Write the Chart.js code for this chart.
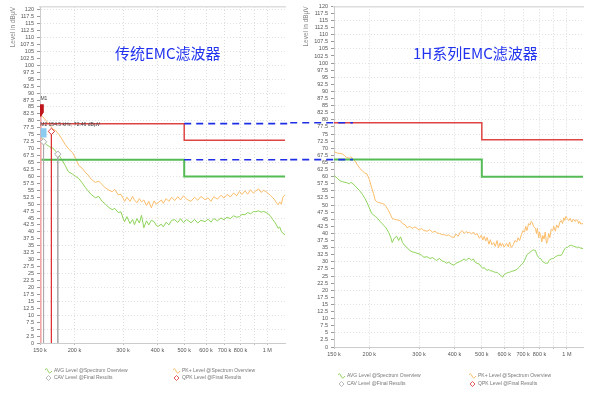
<!DOCTYPE html>
<html>
<head>
<meta charset="utf-8">
<script src="https://cdn.jsdelivr.net/npm/chart.js@4.4.0/dist/chart.umd.min.js"></script>
<style>
body { margin: 0; background: #fff; width: 599px; height: 395px; overflow: hidden; position: relative; font-family: "Liberation Sans", Arial, sans-serif; }
canvas { position: absolute; top: 0; }
#left { left: 0; }
#right { left: 290px; }
.title { position: absolute; font: 15px "Noto Sans CJK SC", sans-serif; color: #2233ee; white-space: nowrap; }
.lg { position: absolute; font-size: 5px; color: #777; white-space: nowrap; line-height: 6px; }
.lg svg { vertical-align: middle; margin-right: 2px; }
</style>
</head>
<body>
<canvas id="left" width="290" height="395"></canvas>
<canvas id="right" width="294" height="395"></canvas>

<div class="title" style="left:115px;top:42px">传统EMC滤波器</div>
<div class="title" style="left:413px;top:42px">1H系列EMC滤波器</div>

<div class="lg" style="left:45px;top:367px"><svg width="7" height="6"><path d="M0,2 Q1.5,-1 3,3 T7,3" fill="none" stroke="#8ed35a" stroke-width="1"/></svg>AVG Level @Spectrum Overview</div>
<div class="lg" style="left:45px;top:374px"><svg width="7" height="6"><path d="M3.5,0.5 L6,3 L3.5,5.5 L1,3 Z" fill="#fff" stroke="#aaa" stroke-width="0.8"/></svg>CAV Level @Final Results</div>
<div class="lg" style="left:173px;top:367px"><svg width="7" height="6"><path d="M0,2 Q1.5,-1 3,3 T7,3" fill="none" stroke="#fbbd6b" stroke-width="1"/></svg>PK+ Level @Spectrum Overview</div>
<div class="lg" style="left:173px;top:374px"><svg width="7" height="6"><path d="M3.5,0.5 L6,3 L3.5,5.5 L1,3 Z" fill="#fff" stroke="#d33" stroke-width="0.8"/></svg>QPK Level @Final Results</div>

<div class="lg" style="left:338px;top:372px"><svg width="7" height="6"><path d="M0,2 Q1.5,-1 3,3 T7,3" fill="none" stroke="#8ed35a" stroke-width="1"/></svg>AVG Level @Spectrum Overview</div>
<div class="lg" style="left:338px;top:380px"><svg width="7" height="6"><path d="M3.5,0.5 L6,3 L3.5,5.5 L1,3 Z" fill="#fff" stroke="#aaa" stroke-width="0.8"/></svg>CAV Level @Final Results</div>
<div class="lg" style="left:469px;top:372px"><svg width="7" height="6"><path d="M0,2 Q1.5,-1 3,3 T7,3" fill="none" stroke="#fbbd6b" stroke-width="1"/></svg>PK+ Level @Spectrum Overview</div>
<div class="lg" style="left:469px;top:380px"><svg width="7" height="6"><path d="M3.5,0.5 L6,3 L3.5,5.5 L1,3 Z" fill="#fff" stroke="#d33" stroke-width="0.8"/></svg>QPK Level @Final Results</div>

<script>
// frequencies in kHz, levels in dBµV
const xTicks = [150, 200, 300, 400, 500, 600, 700, 800, 900, 1000];
const xTickLabels = ['150 k', '200 k', '300 k', '400 k', '500 k', '600 k', '700 k', '800 k', '', '1 M'];

const limitFreq = [150, 500, 500, 2000];
const qpLimit = [79, 79, 73, 73];
const avgLimit = [66, 66, 60, 60];

const dashLevels = [79, 66];
const leftDashFreq = [500, 2000];
const rightDashFreq = [105, 175];

// traditional filter (left)
const leftFreq = [150, 152, 155, 158, 163, 167, 171, 176, 180, 185, 190, 197, 202, 207, 213, 219, 224, 230, 238, 245,
  252, 258, 265, 274, 280, 288, 295, 300, 304, 310, 318, 325, 330, 337, 344, 350, 357, 365, 372, 380,
  389, 396, 402, 413, 420, 430, 440, 450, 462, 474, 485, 497, 510, 529, 545, 560, 575, 595, 610, 625,
  640, 660, 680, 697, 715, 735, 755, 775, 793, 810, 830, 850, 870, 890, 910, 930, 950, 970, 990, 1010,
  1030, 1048, 1065, 1080, 1095, 1110, 1125, 1140, 1160];
const leftPk = [81.5, 82, 81, 80, 78.5, 77, 76.5, 75, 73.5, 71.5, 70, 68.5, 66.5, 64, 63, 61.5, 60.5, 59, 57.8, 58.3,
  57, 56, 55.2, 54.5, 55.3, 53.4, 53.5, 52.2, 51, 52.5, 51, 52.8, 51.5, 50.5, 52, 50.8, 51.5, 49.5, 51, 48.7,
  51.2, 50, 50.5, 51.5, 50.3, 52, 51, 52.5, 51.3, 52.7, 51.5, 53, 51.8, 51, 52.5, 51.4, 52.8, 51.6, 52.3, 51,
  52.7, 51.8, 53.2, 52.2, 53.5, 52.6, 54, 53, 54.6, 53.5, 54.8, 53.6, 55.2, 54, 54.8, 55.5, 54.2, 55, 54.5, 53.8,
  53, 52.3, 51.5, 50.5, 49.8, 50.8, 50, 52.5, 53.4];
const leftAvg = [75, 74, 72.5, 71.5, 70.6, 70.2, 69, 67.5, 66, 64, 61.7, 60.8, 60, 59.3, 57.8, 56, 54.8, 53.5, 52.3, 52.8,
  51, 50.2, 49, 48, 48.5, 47, 47.2, 45, 43.7, 45.5, 43, 44.5, 42.6, 44.8, 43.2, 46, 41.5, 44, 42.5, 44.2,
  43.7, 42.3, 42, 42.8, 41.8, 43.5, 42.5, 44.2, 44.4, 43.4, 44.8, 43.3, 44.5, 43.3, 44.5, 43.2, 44.2, 43.7, 44.6, 43.5,
  44.8, 44, 45, 44.4, 45.3, 44.8, 45.8, 45.3, 45.5, 46.3, 46.2, 47, 46.5, 47.3, 47.3, 47.6, 47.1, 47.4, 47, 46.5,
  45.5, 44.4, 43.5, 42.5, 41.3, 41.8, 40.2, 39.5, 39];

// 1H series filter (right)
const rightFreq = [150, 154, 157, 161, 164, 166, 170, 172, 175, 178, 181, 185, 189, 193, 196, 200, 204, 207, 210, 214,
  218, 222, 225, 229, 234, 238, 241, 245, 250, 254, 258, 262, 268, 272, 278, 284, 290, 295, 300, 306,
  312, 320, 327, 335, 342, 346, 354, 362, 370, 375, 382, 390, 399, 405, 412, 420, 426, 433, 440, 447,
  453, 460, 467, 474, 481, 490, 498, 504, 510, 516, 522, 530, 536, 543, 551, 558, 566, 573, 580, 586,
  592, 600, 612, 620, 627, 635, 646, 655, 665, 672, 680, 690, 699, 708, 715, 722, 732, 741, 748, 754,
  762, 774, 780, 786, 795, 800, 807, 815, 822, 830, 838, 847, 855, 862, 870, 880, 891, 898, 910, 920,
  932, 945, 955, 965, 975, 983, 992, 1002, 1015, 1027, 1040, 1055, 1070, 1080, 1091, 1100, 1110, 1120, 1140];
const rightPk = [68.8, 68.3, 68.2, 68, 67.2, 66.8, 66.5, 67, 66.3, 65.5, 64.3, 63, 62, 61.2, 61, 59, 56, 54, 51.6, 51,
  50.8, 50.5, 50.4, 49.5, 48, 46.5, 45.3, 45, 44.8, 44.6, 44.4, 43.5, 43, 42, 42.5, 41.8, 42.3, 41.8, 41.2, 41.7,
  41, 40.8, 41.3, 40.4, 40.8, 40.2, 40, 39.6, 39.5, 39.2, 39.5, 38.8, 38.6, 39.8, 39, 40.5, 41, 40, 40.7, 40.2,
  40.4, 39.8, 40.5, 39.5, 40, 38.3, 39.3, 37.7, 39, 37.3, 38.6, 36.2, 37.8, 36, 36.8, 35.4, 37.5, 35, 36.7, 35.5,
  36.5, 35.2, 36.5, 35.3, 37, 35, 36, 37.5, 37, 38.5, 37.5, 39.5, 41, 40.5, 42.5, 41, 43.5, 43, 44.3, 43.9,
  42.5, 41.8, 40, 41.8, 38.5, 40.5, 39.3, 37, 39.3, 38, 40.5, 36.5, 37.5, 40, 38.5, 41.5, 41, 42.5, 40.8, 43,
  42, 44, 44.6, 43.5, 45.5, 44.6, 46, 45.3, 44.5, 45.3, 44, 45, 44.2, 44.8, 44.6, 43.5, 44.2, 43.3, 43.5];
const rightAvg = [60.4, 59.5, 58.6, 58.2, 58, 57.9, 57.5, 58, 57.5, 56.8, 56, 55, 53.8, 52.3, 51, 49, 47, 46.5, 46, 45.3,
  44.3, 43.5, 42.8, 42, 40.4, 38.7, 36.8, 38.3, 39, 37.5, 38.8, 36.8, 35.5, 35, 34, 33.5, 33.3, 33, 32.8, 32.3,
  31.6, 31.8, 31.2, 31.5, 30.8, 30.5, 31.2, 30.3, 30, 29.5, 29.9, 29.2, 28.8, 29.5, 29.8, 30.2, 30.5, 31, 30.4, 31.2,
  31.2, 30.5, 31, 29.8, 29.5, 29.2, 28.2, 27.7, 28, 27.3, 27, 27.3, 26.8, 26.8, 26.5, 26.3, 26.3, 25.8, 25.5, 25,
  24.6, 25.5, 26, 26.3, 26.3, 26.6, 26.8, 27, 27.3, 27.8, 28.3, 29, 29.5, 30.5, 31.5, 32.5, 33, 33.3, 33.8, 34,
  34.2, 34, 33, 32.2, 31.5, 31.2, 31.2, 30.5, 30, 29.8, 29.5, 29.5, 29.5, 30.2, 30.8, 31, 31.2, 31.2, 31.8, 32,
  32.3, 32.3, 32.3, 33, 34, 34.6, 35, 35, 35.5, 35.8, 35.8, 35.5, 35.3, 35.2, 35, 35.2, 35, 34.8, 34.7];

// markers / final results on the left plot
const m1Level = [86, 83];
const m2Level = [77.3, 74];
const m2Freq = 154.5;
const finalFreq = [154.5, 165, 174];
const finalLevel = [72.46, 76.2, 68];
const finalColor = ['#aaaaaa', '#dd3333', '#aaaaaa'];

function series(freq, vals) {
  return freq.map((f, i) => ({x: f, y: vals[i]}));
}

function line(data, color, width, extra) {
  return Object.assign({
    data: data, borderColor: color, borderWidth: width,
    pointRadius: 0, tension: 0, fill: false
  }, extra || {});
}

function dashed(freq) {
  return dashLevels.map(lv => line(freq.map(f => ({x: f, y: lv})), '#1f2fe6', 1.6, {borderDash: [7, 5], clip: false}));
}

const markerText = {
  id: 'markerText',
  afterDatasetsDraw(chart) {
    const {ctx} = chart;
    const x = chart.scales.x, y = chart.scales.y;
    ctx.save();
    ctx.font = '5px "Liberation Sans"';
    ctx.fillStyle = '#444';
    ctx.fillText('M1', x.getPixelForValue(150.5), y.getPixelForValue(87.6));
    ctx.fillText('M2 154.5 kHz, 72.46 dBµV', x.getPixelForValue(150.3), y.getPixelForValue(78.1));
    ctx.restore();
  }
};

function makeChart(id, cfg) {
  return new Chart(document.getElementById(id), {
    type: 'line',
    data: {datasets: cfg.datasets},
    plugins: cfg.plugins || [],
    options: {
      responsive: false,
      animation: false,
      devicePixelRatio: 1,
      layout: {padding: cfg.padding},
      plugins: {legend: {display: false}, tooltip: {enabled: false}},
      scales: {
        x: {
          type: 'logarithmic', min: 150, max: cfg.xMax,
          afterBuildTicks: s => { s.ticks = xTicks.map(v => ({value: v})); },
          afterFit: s => { s.height = 20; },
          ticks: {
            autoSkip: false, maxRotation: 0, padding: 2, color: '#555',
            font: {family: 'Liberation Sans', size: 5.5},
            callback: (v, i) => xTickLabels[i]
          },
          grid: {color: '#dcdcdc', tickLength: 2, tickColor: '#bbb'},
          border: {color: '#cccccc', dash: [1, 2]}
        },
        top: {
          type: 'linear', position: 'top', display: true,
          afterFit: s => { s.height = 0; },
          ticks: {display: false}, grid: {display: false},
          border: {color: '#dddddd', width: 1.5}
        },
        y: {
          min: 0, max: cfg.yMax,
          afterFit: s => { s.width = cfg.yWidth; },
          ticks: {
            stepSize: 2.5, includeBounds: false, autoSkip: false, padding: 3, color: '#555',
            font: {family: 'Liberation Sans', size: 5.5}
          },
          grid: {
            color: c => (c.tick && c.tick.value % 5 === 0 ? '#e2e2e2' : 'rgba(0,0,0,0)'),
            tickLength: 3, tickColor: '#999'
          },
          border: {color: '#cccccc', dash: [1, 2]},
          title: {
            display: true, text: 'Level in dBµV', align: 'end', color: '#888',
            font: {family: 'Liberation Sans', size: 6.5}, padding: {top: cfg.titlePad, bottom: 0}
          }
        }
      }
    }
  });
}

const markerSets = [
  line(series([m2Freq, m2Freq], m2Level), '#8ccbf0', 6),
  line(series([151, 151], m1Level), '#c0141b', 6),
  line(series([151], [82.6]), '#c0141b', 0, {showLine: false, pointRadius: 3.5, pointStyle: 'triangle', rotation: 180, pointBackgroundColor: '#c0141b', pointBorderWidth: 0})
].concat(finalFreq.map((f, i) => line(series([f], [finalLevel[i]]), finalColor[i], 0, {
  showLine: false, pointRadius: 3.2, pointStyle: 'rectRot', pointBorderColor: finalColor[i], pointBorderWidth: 1, pointBackgroundColor: '#ffffff'
}))).concat(finalFreq.map((f, i) => line(series([f, f], [finalLevel[i], 0]), finalColor[i], 1)))
  .concat([line(series([151, 151], [82, 0]), '#f2a7a7', 1)]);

makeChart('left', {
  xMax: 1160, yMax: 121, yWidth: 40, titlePad: 9,
  padding: {top: 7, right: 1, bottom: 32, left: 0},
  plugins: [markerText],
  datasets: dashed(leftDashFreq).concat(markerSets).concat([
    line(series(limitFreq, qpLimit), '#dd4444', 1.5),
    line(series(limitFreq, avgLimit), '#55bb55', 2),
    line(series(leftFreq, leftAvg), '#8ed35a', 1),
    line(series(leftFreq, leftPk), '#fbbd6b', 1)
  ])
});

makeChart('right', {
  xMax: 1140, yMax: 120, yWidth: 44, titlePad: 12,
  padding: {top: 5, right: 1, bottom: 28, left: 0},
  datasets: dashed(rightDashFreq).concat([
    line(series(limitFreq, qpLimit), '#dd4444', 1.5),
    line(series(limitFreq, avgLimit), '#55bb55', 2),
    line(series(rightFreq, rightAvg), '#8ed35a', 1),
    line(series(rightFreq, rightPk), '#fbbd6b', 1)
  ])
});
</script>
</body>
</html>
